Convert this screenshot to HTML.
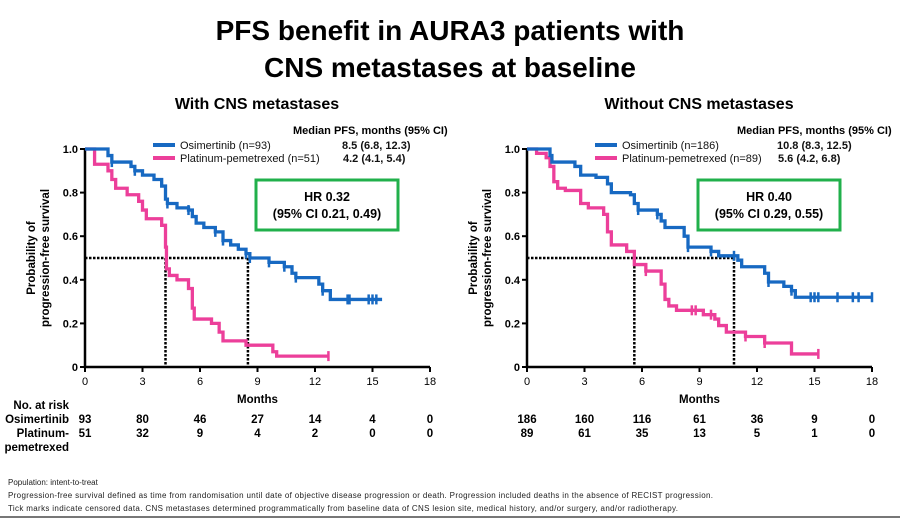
<!DOCTYPE html>
<html><head><meta charset="utf-8"><style>
body{margin:0;background:#fff;width:900px;height:519px;overflow:hidden;font-family:"Liberation Sans",Arial,sans-serif}
svg text{font-family:"Liberation Sans",Arial,sans-serif}
</style></head><body>
<svg id="s" width="900" height="519">
<text x="450" y="40" text-anchor="middle" font-size="28" font-weight="bold" fill="#000">PFS benefit in AURA3 patients with</text>
<text x="450" y="77" text-anchor="middle" font-size="28" font-weight="bold" fill="#000">CNS metastases at baseline</text>
<text x="8" y="485" font-size="8" fill="#222">Population: intent-to-treat</text>
<text x="8" y="498" font-size="8" fill="#222" textLength="705">Progression-free survival defined as time from randomisation until date of objective disease progression or death. Progression included deaths in the absence of RECIST progression.</text>
<text x="8" y="511" font-size="8" fill="#222" textLength="670">Tick marks indicate censored data. CNS metastases determined programmatically from baseline data of CNS lesion site, medical history, and/or surgery, and/or radiotherapy.</text>
<line x1="0" y1="517" x2="900" y2="517" stroke="#777" stroke-width="2"/>
</svg>
<script>
const xTicks=[0,3,6,9,12,15,18];
const yTicks=[0,0.2,0.4,0.6,0.8,1.0];
const yTickLabels=["0","0.2","0.4","0.6","0.8","1.0"];
const leftOsi=[[0,1],[1.2,0.97],[1.4,0.94],[2.4,0.92],[2.6,0.90],[3.0,0.88],[3.6,0.86],[4.0,0.83],[4.2,0.77],[4.3,0.75],[4.8,0.73],[5.4,0.72],[5.6,0.69],[5.8,0.66],[6.2,0.64],[6.8,0.62],[7.2,0.58],[7.6,0.56],[8.0,0.54],[8.4,0.52],[8.6,0.50],[9.6,0.48],[10.4,0.46],[10.8,0.43],[11.0,0.41],[12.2,0.38],[12.4,0.35],[12.8,0.31],[15.5,0.31]];
const leftPlat=[[0,1],[0.5,0.93],[1.2,0.90],[1.4,0.86],[1.6,0.82],[2.2,0.79],[2.8,0.76],[3.0,0.72],[3.2,0.68],[4.0,0.65],[4.2,0.55],[4.25,0.45],[4.4,0.42],[4.8,0.40],[5.4,0.36],[5.6,0.27],[5.7,0.22],[6.6,0.20],[7.0,0.16],[7.2,0.12],[8.4,0.10],[9.8,0.07],[10.0,0.05],[12.7,0.05]];
const rightOsi=[[0,1],[1.2,0.97],[1.3,0.94],[2.5,0.92],[2.8,0.88],[3.6,0.87],[4.2,0.84],[4.4,0.80],[5.4,0.79],[5.6,0.75],[5.8,0.72],[6.8,0.70],[7.0,0.67],[7.2,0.64],[8.2,0.60],[8.4,0.55],[9.6,0.53],[10.0,0.51],[11.0,0.49],[11.2,0.46],[12.4,0.43],[12.6,0.39],[13.4,0.37],[13.8,0.35],[14.0,0.32],[18,0.32]];
const rightPlat=[[0,1],[0.5,0.98],[1.0,0.96],[1.2,0.92],[1.4,0.85],[1.6,0.82],[2.0,0.81],[2.8,0.75],[3.2,0.73],[4.0,0.70],[4.2,0.62],[4.4,0.56],[5.2,0.53],[5.6,0.47],[6.2,0.44],[7.0,0.38],[7.2,0.31],[7.4,0.28],[7.8,0.26],[9.2,0.24],[9.8,0.22],[10.0,0.19],[10.4,0.16],[11.4,0.14],[12.4,0.11],[13.8,0.06],[15.2,0.06]];
const leftOsiCens=[1.4,2.6,4.3,5.4,6.8,7.2,8.4,8.6,9.6,10.4,11.0,12.4,13.7,13.8,14.8,15.0,15.2];
const leftPlatCens=[12.7];
const rightOsiCens=[5.8,6.8,8.4,9.6,10.8,12.6,13.8,14.8,15.0,15.2,16.2,17.0,17.3,18];
const rightPlatCens=[6.2,8.6,8.8,9.6,11.4,12.4,15.2];
const leftMedians=[4.2,8.5];
const rightMedians=[5.6,10.8];
const leftRiskOsi=[93,80,46,27,14,4,0];
const leftRiskPlat=[51,32,9,4,2,0,0];
const rightRiskOsi=[186,160,116,61,36,9,0];
const rightRiskPlat=[89,61,35,13,5,1,0];

const svg=document.getElementById('s');
const NS='http://www.w3.org/2000/svg';
function mk(tag,attrs,parent){const e=document.createElementNS(NS,tag);for(const k in attrs)e.setAttribute(k,attrs[k]);(parent||svg).appendChild(e);return e;}
const BLUE='#1769c2',PINK='#ec3f9a';

function panel(p){
  const X0=p.x0,X1=p.x0+345,Y0=367,Y1=149;
  const sx=t=>X0+t/18*(X1-X0), sy=v=>Y0-v*(Y0-Y1);
  const g=mk('g',{});
  
  
  let t=mk('text',{x:p.subX,y:109,'text-anchor':'middle','font-size':16,'font-weight':'bold'},g);t.textContent=p.sub;
  
  let a=mk('path',{d:`M${X0},${Y1} V${Y0} H${X1}`,stroke:'#000','stroke-width':2.5,fill:'none'},g);
  
  xTicks.forEach(v=>{const l=mk('line',{x1:sx(v),x2:sx(v),y1:Y0,y2:Y0+5,stroke:'#000','stroke-width':2},g);
    
    const tx=mk('text',{x:sx(v),y:Y0+18,'text-anchor':'middle','font-size':11},g);tx.textContent=v;
    });
  yTicks.forEach((v,i)=>{const l=mk('line',{x1:X0-5,x2:X0,y1:sy(v),y2:sy(v),stroke:'#000','stroke-width':2},g);
    
    const tx=mk('text',{x:X0-7,y:sy(v)+4,'text-anchor':'end','font-size':11,'font-weight':'bold'},g);tx.textContent=yTickLabels[i];
    });
  const yt=mk('text',{transform:`translate(${X0-50},258) rotate(-90)`,'text-anchor':'middle','font-size':11.5,'font-weight':'bold'},g);
  
  const ts1=mk('tspan',{x:0,dy:0},yt);ts1.textContent='Probability of';
  const ts2=mk('tspan',{x:0,dy:14},yt);ts2.textContent='progression-free survival';
  const xt=mk('text',{x:sx(9),y:Y0+36,'text-anchor':'middle','font-size':11.5,'font-weight':'bold'},g);xt.textContent='Months';
  
  const md=`M${X0},${sy(0.5)} H${sx(p.med[1])} M${sx(p.med[0])},${sy(0.5)} V${Y0} M${sx(p.med[1])},${sy(0.5)} V${Y0}`;
  const ml=mk('path',{d:md,stroke:'#000','stroke-width':2.5,'stroke-dasharray':'2.5,1.5',fill:'none'},g);
  
  function curve(data,cens,col,nm){
    let d=`M${sx(data[0][0])},${sy(data[0][1])}`;
    for(let i=1;i<data.length;i++){d+=` H${sx(data[i][0])} V${sy(data[i][1])}`;}
    const c=mk('path',{d,stroke:col,'stroke-width':3.3,fill:'none'},g);
    
    cens.forEach(t=>{let v=data[0][1];for(const pt of data){if(pt[0]<=t)v=pt[1];}
      const m=mk('line',{x1:sx(t),x2:sx(t),y1:sy(v)-5,y2:sy(v)+5,stroke:col,'stroke-width':2.5},g);
      });
  }
  curve(p.plat,p.platC,PINK,'platinum');
  curve(p.osi,p.osiC,BLUE,'osimertinib');
  [[BLUE,p.osiLab,145,p.osiMed],[PINK,p.platLab,158,p.platMed]].forEach(([c,lab,y,med],i)=>{
    const l=mk('line',{x1:p.x0+68,x2:p.x0+90,y1:y,y2:y,stroke:c,'stroke-width':4},g);
    
    const tx=mk('text',{x:p.x0+95,y:y+4,'font-size':11,fill:'#111'},g);tx.textContent=lab;
    
    const mt=mk('text',{x:p.medX+(i?1:0),y:y+4,'font-size':11,'font-weight':'bold',fill:'#111'},g);mt.textContent=med;
    
  });
  const mh=mk('text',{x:p.medHX,y:134,'font-size':11,'font-weight':'bold'},g);mh.textContent='Median PFS, months (95% CI)';
  
  const b=mk('rect',{x:p.x0+171,y:180,width:142,height:50,fill:'#fff',stroke:'#21b04b','stroke-width':3},g);
  
  const h1=mk('text',{x:p.x0+242,y:201,'text-anchor':'middle','font-size':12.5,'font-weight':'bold'},g);h1.textContent=p.hr1;
  
  const h2=mk('text',{x:p.x0+242,y:218,'text-anchor':'middle','font-size':12.5,'font-weight':'bold'},g);h2.textContent=p.hr2;
  
  [[p.rOsi,423],[p.rPlat,437]].forEach(([arr,y])=>arr.forEach((n,i)=>{
    const tx=mk('text',{x:sx(xTicks[i]),y,'text-anchor':'middle','font-size':11.5,'font-weight':'bold'},g);tx.textContent=n;
    }));
}
panel({name:'left-panel',x0:85,sub:'With CNS metastases',subX:257,osi:leftOsi,plat:leftPlat,osiC:leftOsiCens,platC:leftPlatCens,med:leftMedians,
  osiLab:'Osimertinib (n=93)',platLab:'Platinum-pemetrexed (n=51)',osiMed:'8.5 (6.8, 12.3)',platMed:'4.2 (4.1, 5.4)',medX:342,medHX:293,
  hr1:'HR 0.32',hr2:'(95% CI 0.21, 0.49)',rOsi:leftRiskOsi,rPlat:leftRiskPlat});
panel({name:'right-panel',x0:527,sub:'Without CNS metastases',subX:699,osi:rightOsi,plat:rightPlat,osiC:rightOsiCens,platC:rightPlatCens,med:rightMedians,
  osiLab:'Osimertinib (n=186)',platLab:'Platinum-pemetrexed (n=89)',osiMed:'10.8 (8.3, 12.5)',platMed:'5.6 (4.2, 6.8)',medX:777,medHX:737,
  hr1:'HR 0.40',hr2:'(95% CI 0.29, 0.55)',rOsi:rightRiskOsi,rPlat:rightRiskPlat});
[['No. at risk',409],['Osimertinib',423],['Platinum-',437],['pemetrexed',451]].forEach(([s,y])=>{
  const t=mk('text',{x:69,y,'text-anchor':'end','font-size':11.5,'font-weight':'bold'});t.textContent=s;
  
  
});
</script>
</body></html>
